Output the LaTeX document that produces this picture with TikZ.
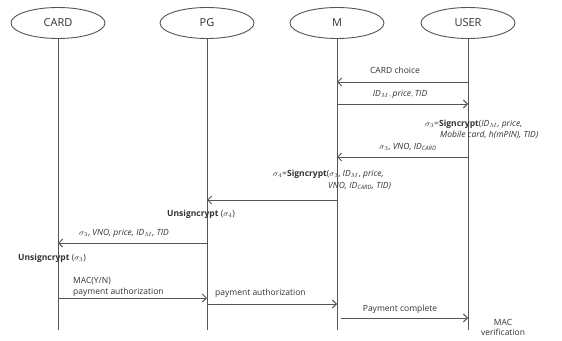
\documentclass[tikz,border=0pt]{standalone}
\usepackage{fontspec}
\setmainfont{Open Sans}
\usetikzlibrary{arrows.meta,shapes.geometric}
\definecolor{ln}{HTML}{555555}
\definecolor{tx}{HTML}{333333}
\begin{document}
\begin{tikzpicture}[x=1pt,y=-1pt,
  actor/.style={draw=ln,line width=0.9pt,ellipse,minimum width=94pt,minimum height=31pt,font=\fontsize{11}{13}\selectfont,text=tx},
  life/.style={draw=ln,line width=1pt},
  msg/.style={draw=ln,line width=1pt,-{Straight Barb[length=4pt,width=8pt,line width=0.9pt]}},
  lbl/.style={font=\fontsize{8.5}{10}\selectfont,text=tx,inner sep=0pt}]
\useasboundingbox[fill=white] (0,0) rectangle (562,340);
% actors
\node[actor] (card) at (58,23) {CARD};
\node[actor] (pg) at (207,23) {PG};
\node[actor] (m) at (337,23) {M};
\node[actor] (user) at (468,23) {USER};
\coordinate (cardE) at (58,330);
\coordinate (pgE) at (207,330);
\coordinate (mE) at (337,330);
\coordinate (userE) at (468,330);
\draw[life] (card) -- (cardE);
\draw[life] (pg) -- (pgE);
\draw[life] (m) -- (mE);
\draw[life] (user) -- (userE);
% 1 CARD choice
\coordinate (u1) at (468,82); \coordinate (m1) at (337,82);
\draw[msg] (u1) -- (m1);
\node[lbl] (l1) at (395,70) {CARD choice};
% 2
\coordinate (m2) at (337,104); \coordinate (u2) at (468,104);
\draw[msg] (m2) -- (u2);
\node[lbl] (l2) at (400,94) {$\mathit{ID}_M, \mathit{price}, \mathit{TID}$};
% sigma3
\node[lbl,anchor=west] (s3a) at (425,124) {$\sigma_3$=\textbf{Signcrypt}(\textit{$\mathit{ID}_M$, price,}};
\node[lbl,anchor=west] (s3b) at (440,135) {\textit{Mobile card, h(mPIN), TID)}};
% 3
\coordinate (u3) at (468,157); \coordinate (m3) at (337,157);
\draw[msg] (u3) -- (m3);
\node[lbl] (l3) at (408,147) {$\sigma_3$, \textit{VNO, }$\mathit{ID}_{\mathit{CARD}}$};
% sigma4
\node[lbl,anchor=west] (s4a) at (273,174) {$\sigma_4$=\textbf{Signcrypt}($\sigma_3$, $\mathit{ID}_M$, \textit{price,}};
\node[lbl,anchor=west] (s4b) at (328,186) {\textit{VNO, }$\mathit{ID}_{\mathit{CARD}}$\textit{, TID)}};
% 4
\coordinate (m4) at (337,200); \coordinate (p4) at (207,200);
\draw[msg] (m4) -- (p4);
\node[lbl] (un4) at (201,214) {\textbf{Unsigncrypt} ($\sigma_4$)};
% 5
\coordinate (p5) at (207,243); \coordinate (c5) at (58,243);
\draw[msg] (p5) -- (c5);
\node[lbl] (l5) at (124,233) {$\sigma_3$, \textit{VNO, price, }$\mathit{ID}_M$\textit{, TID}};
\node[lbl] (un3) at (52,258) {\textbf{Unsigncrypt} ($\sigma_3$)};
% 6
\node[lbl,anchor=west] (l6a) at (73,281) {MAC(Y/N)};
\node[lbl,anchor=west] (l6b) at (73,292.5) {payment authorization};
\coordinate (c6) at (58,298); \coordinate (p6) at (207,298);
\draw[msg] (c6) -- (p6);
% 7
\node[lbl,anchor=west] (l7) at (215,293) {payment authorization};
\coordinate (p7) at (207,304); \coordinate (m7) at (337,304);
\draw[msg] (p7) -- (m7);
% 8
\node[lbl] (l8) at (400,309) {Payment complete};
\coordinate (m8) at (341,318); \coordinate (u8) at (468,318);
\draw[msg] (m8) -- (u8);
% MAC verification
\node[lbl,align=center] (mv) at (503,327) {MAC\\verification};
\end{tikzpicture}
\end{document}
